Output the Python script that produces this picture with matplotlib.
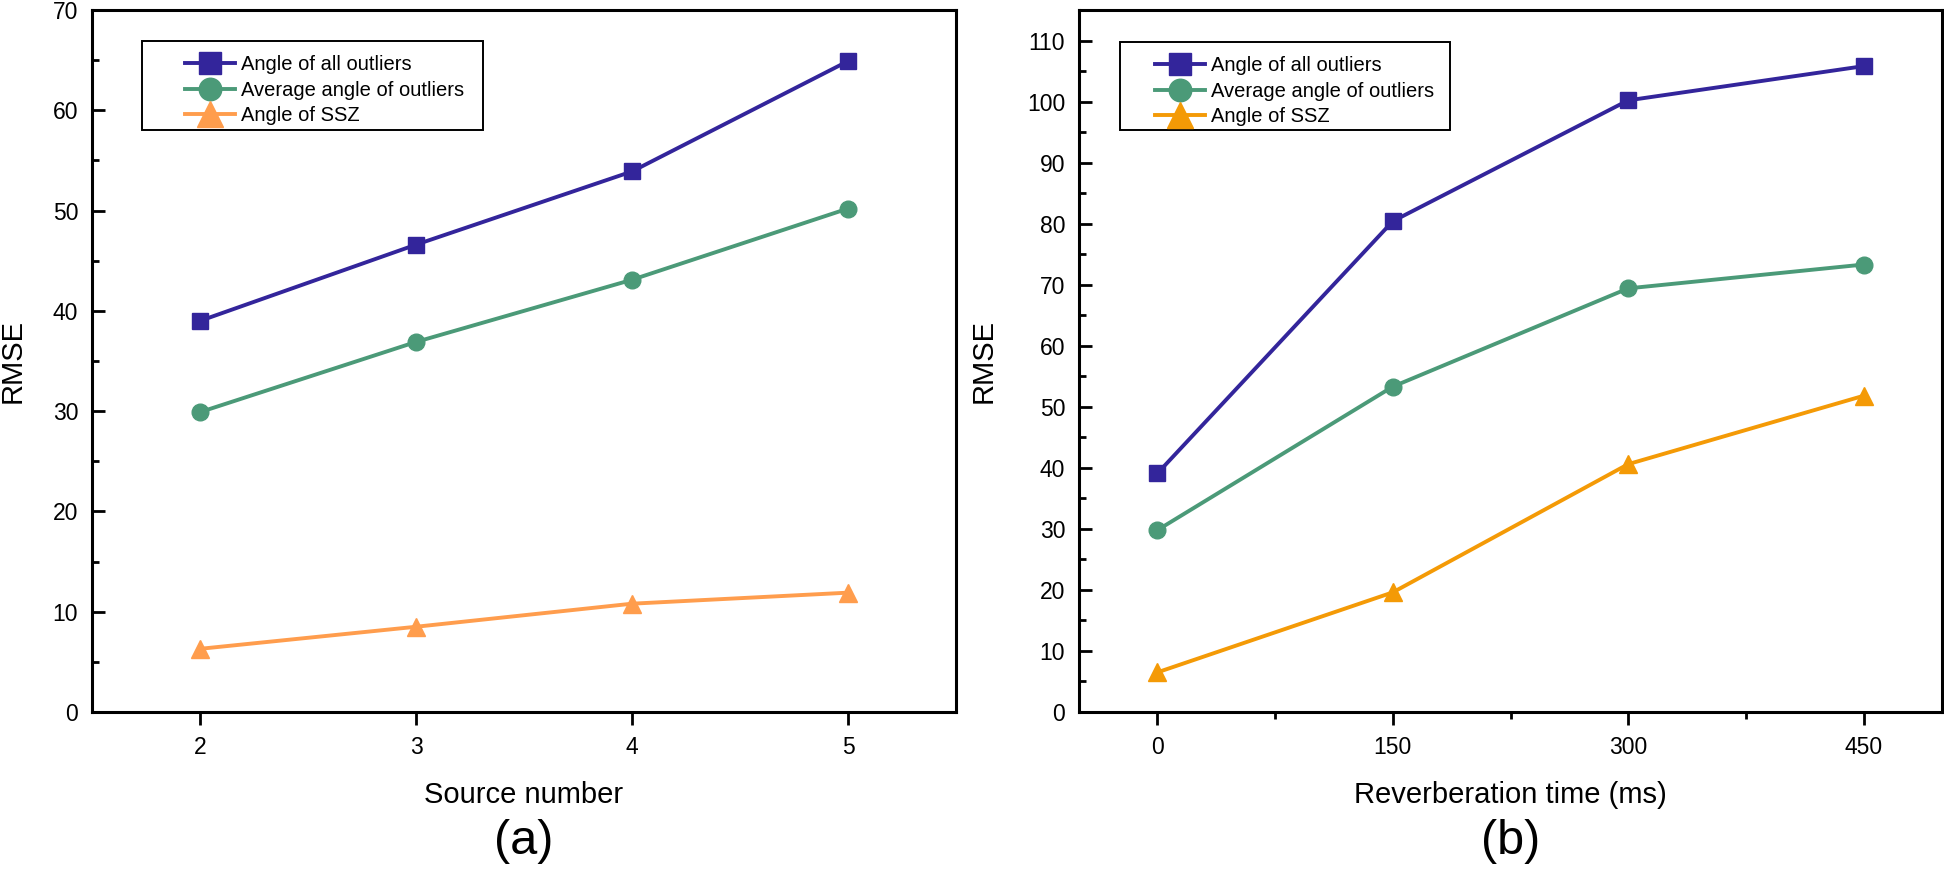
import matplotlib
matplotlib.use('Agg')
import matplotlib.pyplot as plt
from matplotlib.patches import Rectangle
from matplotlib.ticker import MultipleLocator

plt.rcParams['font.family'] = ['Liberation Sans', 'DejaVu Sans']

# (a) RMSE vs. number of sources
source_number = [2, 3, 4, 5]
a_all_outliers = [39.0, 46.6, 53.9, 64.9]
a_avg_outliers = [29.9, 36.9, 43.1, 50.2]
a_ssz = [6.3, 8.5, 10.8, 11.9]

# (b) RMSE vs. reverberation time
reverb_time = [0, 150, 300, 450]
b_all_outliers = [39.1, 80.4, 100.2, 105.8]
b_avg_outliers = [29.8, 53.3, 69.4, 73.3]
b_ssz = [6.5, 19.6, 40.6, 51.8]

labels = ['Angle of all outliers', 'Average angle of outliers', 'Angle of SSZ']
blue = '#33259b'
green = '#4b9a78'
orange_a = '#ff9d4d'
orange_b = '#f49a06'

W, H = 1944, 873
fig = plt.figure(figsize=(W / 100, H / 100), dpi=100)


def px_axes(left, right, top, bottom):
    return fig.add_axes([left / W, 1 - bottom / H, (right - left) / W, (bottom - top) / H])


def style_axes(ax):
    for s in ax.spines.values():
        s.set_linewidth(2.2)
    ax.tick_params(axis='x', which='major', direction='out', length=9.5, width=2, pad=8, labelsize=16.5)
    ax.tick_params(axis='x', which='minor', direction='out', length=5, width=2)
    ax.tick_params(axis='y', which='major', direction='in', length=9.5, width=2, pad=10, labelsize=16.5)
    ax.tick_params(axis='y', which='minor', direction='in', length=5, width=2)
    ax.tick_params(top=False, right=False, which='both')


def draw_panel(ax, x, ys, colors, xlabel, tag, leg_box, ylab_x):
    markers = ['s', 'o', '^']
    msizes = [11.5, 12, 13.5]
    handles = []
    for y, c, m, ms, lab in zip(ys, colors, markers, msizes, labels):
        h, = ax.plot(x, y, color=c, lw=2.8, marker=m, markersize=ms,
                     markeredgecolor=c, label=lab)
        handles.append(h)
    style_axes(ax)
    ax.set_xlabel(xlabel, fontsize=21)
    ax.xaxis.set_label_coords(0.5, -0.118)
    ax.xaxis.label.set_verticalalignment('center')
    ax.set_ylabel('RMSE', fontsize=21)
    ax.yaxis.set_label_coords(ylab_x, 0.5)
    ax.yaxis.label.set_verticalalignment('center')

    # legend frame drawn separately (Origin style with wide left margin)
    bx0, by0, bx1, by1, hx = leg_box
    pos = ax.get_position()
    fx0 = pos.x0 * W
    fy_top = (1 - pos.y1) * H
    aw = pos.width * W
    ah = pos.height * H
    ax.add_patch(Rectangle(((bx0 - fx0) / aw, 1 - (by1 - fy_top) / ah),
                           (bx1 - bx0) / aw, (by1 - by0) / ah,
                           transform=ax.transAxes, fill=False, lw=1.4,
                           edgecolor='black', zorder=5))
    ax.legend(handles=handles, loc='upper left', frameon=False,
              bbox_to_anchor=((hx - fx0) / aw, 1 - (by0 + 14 - fy_top) / ah),
              borderpad=0, borderaxespad=0, fontsize=14.5, handlelength=2.5,
              handletextpad=0.3, labelspacing=0.33, markerscale=1.35)
    fig.text((pos.x0 + pos.x1) / 2, 0.036, tag, fontsize=35, ha='center', va='center')


ax1 = px_axes(92, 956, 10, 712)
ax1.set_xlim(1.5, 5.5)
ax1.set_ylim(0, 70)
ax1.xaxis.set_major_locator(MultipleLocator(1))
ax1.yaxis.set_major_locator(MultipleLocator(10))
ax1.yaxis.set_minor_locator(MultipleLocator(5))
draw_panel(ax1, source_number, [a_all_outliers, a_avg_outliers, a_ssz],
           [blue, green, orange_a], 'Source number', '(a)',
           (142, 41, 483, 130, 185), -0.092)

ax2 = px_axes(1079, 1942, 10, 712)
ax2.set_xlim(-50, 500)
ax2.set_ylim(0, 115)
ax2.xaxis.set_major_locator(MultipleLocator(150))
ax2.xaxis.set_minor_locator(MultipleLocator(75))
ax2.yaxis.set_major_locator(MultipleLocator(10))
ax2.yaxis.set_minor_locator(MultipleLocator(5))
draw_panel(ax2, reverb_time, [b_all_outliers, b_avg_outliers, b_ssz],
           [blue, green, orange_b], 'Reverberation time (ms)', '(b)',
           (1120, 42, 1450, 130, 1155), -0.111)

fig.savefig('out.png', dpi=100)
